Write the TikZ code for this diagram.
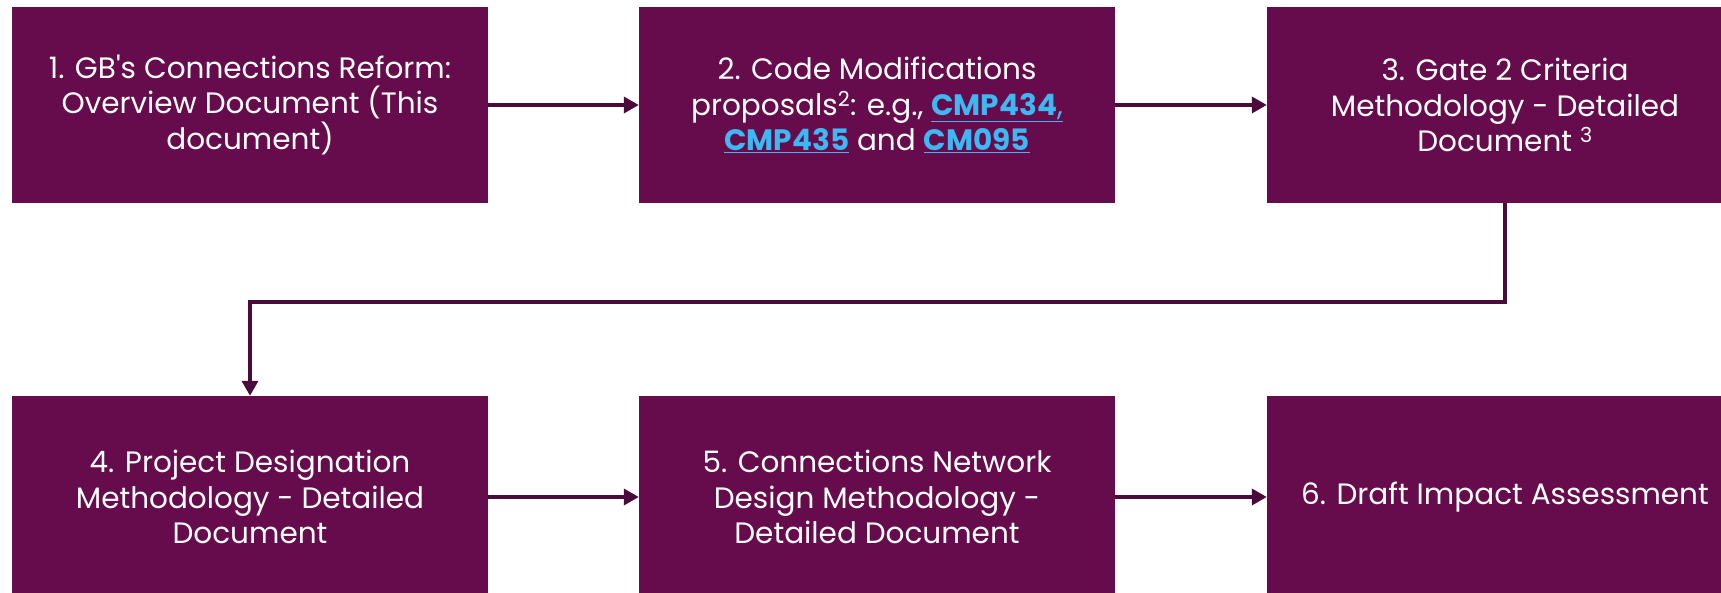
\documentclass[tikz,border=0pt]{standalone}
\usepackage{fontspec}
\setmainfont{Poppins}
\usetikzlibrary{arrows.meta}
\definecolor{boxfill}{HTML}{660C4D}
\definecolor{arrowcol}{HTML}{4A0A3A}
\definecolor{linkblue}{HTML}{3DB8F2}
\newcommand{\lnk}[1]{{\color{linkblue}\bfseries\underline{#1}}}
\begin{document}
\begin{tikzpicture}[x=1pt,y=1pt,
  stagebox/.style={fill=boxfill, draw=none, text=white, minimum width=476pt, minimum height=196pt,
    inner sep=0pt, align=center, font=\fontsize{29.5}{35.7}\selectfont},
  lowbox/.style={stagebox, minimum height=202pt},
  flow/.style={draw=arrowcol, line width=3.5pt, -{Triangle[length=15pt,width=16pt]}}]
\useasboundingbox (0,0) rectangle (1721,592);
\node[stagebox] (n1) at (250,487) {1. GB\textquotesingle s Connections Reform:\\Overview Document (This\\document)};
\node[stagebox] (n2) at (877,487) {2. Code Modifications\\proposals\textsuperscript{2}: e.g., {\color{linkblue}\underline{\textbf{CMP434},}}\\\lnk{CMP435} and \lnk{CM095}};
\node[stagebox] (n3) at (1505,487) {3. Gate 2 Criteria\\Methodology - Detailed\\Document \textsuperscript{3}};
\node[lowbox] (n4) at (250,95) {4. Project Designation\\Methodology - Detailed\\Document};
\node[lowbox] (n5) at (877,95) {5. Connections Network\\Design Methodology -\\Detailed Document};
\node[lowbox] (n6) at (1505,95) {6. Draft Impact Assessment};
\coordinate (mid) at (0,290);
\draw[flow] (n1) -- (n2);
\draw[flow] (n2) -- (n3);
\draw[flow] (n3.south) -- (n3.south |- mid) -| (n4.north);
\draw[flow] (n4) -- (n5);
\draw[flow] (n5) -- (n6);
\end{tikzpicture}
\end{document}
